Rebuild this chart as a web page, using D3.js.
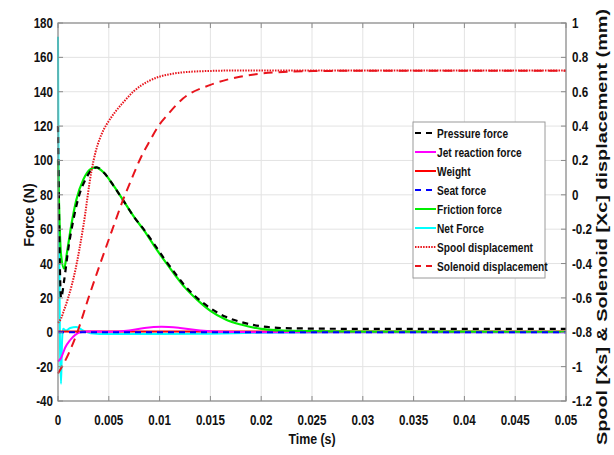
<!DOCTYPE html>
<html><head><meta charset="utf-8">
<script src="https://cdn.jsdelivr.net/npm/d3@7"></script>
<style>
html,body{margin:0;padding:0;background:#fff;}
text{font-family:"Liberation Sans",Arial,sans-serif;font-weight:bold;fill:#111;}
</style></head>
<body><svg id="c" width="614" height="455"></svg>
<script>
// ---- data ----
const xTicks = [0,0.005,0.01,0.015,0.02,0.025,0.03,0.035,0.04,0.045,0.05];
const xTickLabels = ["0","0.005","0.01","0.015","0.02","0.025","0.03","0.035","0.04","0.045","0.05"];
const yTicks = [-40,-20,0,20,40,60,80,100,120,140,160,180];
const y2Ticks = [-1.2,-1,-0.8,-0.6,-0.4,-0.2,0,0.2,0.4,0.6,0.8,1];
const y2TickLabels = ["-1.2","-1","-0.8","-0.6","-0.4","-0.2","0","0.2","0.4","0.6","0.8","1"];

const pressureT = [0,0.0001,0.0003,0.0006,0.001,0.0015,0.002,0.0028,0.0033,0.0038,0.0045,0.0055,0.0065,0.0075,0.0085,0.0095,0.0105,0.0115,0.0125,0.0135,0.015,0.0165,0.018,0.02,0.023,0.03,0.05];
const pressureF = [120,70,20,30,48,65,78,90,94.5,96,93,85,76,67,59.5,51,42.5,34.5,27,21,14,9,6,3.5,2.3,2,2];
const frictionT = [0,0.0001,0.0003,0.0006,0.0009,0.0013,0.0018,0.0025,0.0032,0.0037,0.0045,0.0055,0.0065,0.0075,0.0085,0.0095,0.0105,0.0115,0.0125,0.0135,0.015,0.0165,0.018,0.02,0.023,0.03,0.05];
const frictionF = [100,75,45,37,47,62,77,89,95,96,93,85,76,67,59,50,41.5,33.5,26,20,12.5,7.5,4.5,2,0.8,0.4,0.3];
const netT = [0,0.00005,0.0002,0.0003,0.0004,0.0005,0.0008,0.0012,0.0018,0.0025,0.0032,0.005,0.01,0.015,0.02,0.03,0.05];
const netF = [172,100,-10,-30,-5,2,1,2.5,3,1,-0.5,-1,-1,-0.8,-0.3,0,0];
const jetT = [0,0.0003,0.0007,0.0012,0.0017,0.0022,0.003,0.005,0.007,0.0085,0.0102,0.012,0.014,0.016,0.02,0.05];
const jetF = [-17,-15,-9,-4.5,-1.5,0,0.5,0.3,1,2.5,3.2,2.5,1,0.3,0,0];
const weightT = [0,0.05];
const weightF = [0.5,0.5];
const seatT = [0,0.05];
const seatF = [0,0];
const spoolT = [0,0.0003,0.0006,0.001,0.0017,0.0025,0.0033,0.0037,0.0041,0.0045,0.005,0.0058,0.0066,0.0074,0.0082,0.009,0.01,0.011,0.012,0.013,0.015,0.018,0.05];
const spoolX = [-0.745,-0.72,-0.67,-0.6,-0.44,-0.18,0.14,0.25,0.325,0.38,0.43,0.495,0.55,0.6,0.637,0.664,0.688,0.702,0.711,0.716,0.721,0.724,0.724];
const solenoidT = [0,0.001,0.0019,0.003,0.0041,0.0053,0.0064,0.0073,0.0081,0.009,0.01,0.0107,0.0123,0.015,0.0179,0.0212,0.025,0.03,0.05];
const solenoidX = [-1.04,-0.93,-0.8,-0.6,-0.41,-0.21,-0.03,0.1,0.21,0.31,0.41,0.46,0.56,0.64,0.687,0.712,0.72,0.722,0.722];

const legendLabels = ["Pressure force","Jet reaction force","Weight","Seat force","Friction force","Net Force","Spool displacement","Solenoid displacement"];

// ---- chart ----
const svg = d3.select("#c");
const L=58,R=566,T=23,B=401;
const x = d3.scaleLinear().domain([0,0.05]).range([L,R]);
const y = d3.scaleLinear().domain([-40,180]).range([B,T]);
const y2 = d3.scaleLinear().domain([-1.2,1]).range([B,T]);
const NARROW = 0.8;
function ntext(sel, px, py, str, size, anchor){
  return sel.append("text").attr("transform",`translate(${px},${py}) scale(${NARROW},1)`)
   .attr("text-anchor",anchor).attr("font-size",size).text(str);
}

// grid
const g = svg.append("g");
g.selectAll(".gx").data(xTicks).enter().append("line")
 .attr("x1",d=>x(d)).attr("x2",d=>x(d)).attr("y1",T).attr("y2",B)
 .attr("stroke","#e3e3e3").attr("stroke-width",1);
g.selectAll(".gy").data(yTicks).enter().append("line")
 .attr("x1",L).attr("x2",R).attr("y1",d=>y(d)).attr("y2",d=>y(d))
 .attr("stroke","#e3e3e3").attr("stroke-width",1);

// series
const series = [
 {t:netT,v:netF,sc:y,c:"#00ffff",dash:null,w:2},
 {t:weightT,v:weightF,sc:y,c:"#ff0000",dash:null,w:2},
 {t:jetT,v:jetF,sc:y,c:"#ff00ff",dash:null,w:2},
 {t:frictionT,v:frictionF,sc:y,c:"#00ee00",dash:null,w:2.2},
 {t:pressureT,v:pressureF,sc:y,c:"#000000",dash:"6,5",w:2.2},
 {t:seatT,v:seatF,sc:y,c:"#0000ff",dash:"6,5",w:2.2},
 {t:spoolT,v:spoolX,sc:y2,c:"#e8141c",dash:"1.5,1.2",w:2},
 {t:solenoidT,v:solenoidX,sc:y2,c:"#e8141c",dash:"9,6",w:2}
];
series.forEach(s=>{
 const line = d3.line().x((d,i)=>x(s.t[i])).y(d=>s.sc(d)).curve(d3.curveMonotoneX);
 svg.append("path").attr("d",line(s.v)).attr("fill","none").attr("stroke",s.c)
  .attr("stroke-width",s.w).attr("stroke-dasharray",s.dash);
});

// axes
const ax = svg.append("g");
ax.append("rect").attr("x",L).attr("y",T).attr("width",R-L).attr("height",B-T)
 .attr("fill","none").attr("stroke","#8a8a8a").attr("stroke-width",1.2);
const tk=5;
ax.selectAll(".tb").data(xTicks).enter().append("line")
 .attr("x1",d=>x(d)).attr("x2",d=>x(d)).attr("y1",B).attr("y2",B-tk).attr("stroke","#8a8a8a");
ax.selectAll(".tt").data(xTicks).enter().append("line")
 .attr("x1",d=>x(d)).attr("x2",d=>x(d)).attr("y1",T).attr("y2",T+tk).attr("stroke","#8a8a8a");
ax.selectAll(".tl").data(yTicks).enter().append("line")
 .attr("x1",L).attr("x2",L+tk).attr("y1",d=>y(d)).attr("y2",d=>y(d)).attr("stroke","#8a8a8a");
ax.selectAll(".tr").data(y2Ticks).enter().append("line")
 .attr("x1",R).attr("x2",R-tk).attr("y1",d=>y2(d)).attr("y2",d=>y2(d)).attr("stroke","#8a8a8a");

xTicks.forEach((d,i)=>ntext(ax, x(d), 425, xTickLabels[i], 14.5, "middle"));
yTicks.forEach(d=>ntext(ax, 53, y(d)+5, String(d), 14.5, "end"));
y2Ticks.forEach((d,i)=>ntext(ax, 572, y2(d)+5, y2TickLabels[i], 14.5, "start"));

ntext(svg, (L+R)/2, 444, "Time (s)", 15.5, "middle");
svg.append("text").attr("transform","translate(34,215) rotate(-90)")
 .attr("text-anchor","middle").attr("font-size",14.5).text("Force (N)");
svg.append("text").attr("transform","translate(607,227) rotate(-90)")
 .attr("text-anchor","middle").attr("font-size",15.5)
 .attr("textLength",436).attr("lengthAdjust","spacingAndGlyphs")
 .text("Spool [Xs] & Solenoid [Xc] displacement (mm)");

// legend
const lg = svg.append("g");
const lx=413, ly=122, lw=132, lh=156, step=19;
lg.append("rect").attr("x",lx).attr("y",ly).attr("width",lw).attr("height",lh)
 .attr("fill","#fff").attr("stroke","#9a9a9a").attr("stroke-width",1);
const legOrder=[4,2,1,5,3,0,6,7];
legOrder.forEach((si,i)=>{
 const s=series[si];
 const yy=ly+11+i*step;
 const d = s.dash==="6,5"?"6,5":(s.dash==="9,6"?"6,5":s.dash);
 lg.append("line").attr("x1",lx+2).attr("x2",lx+23).attr("y1",yy).attr("y2",yy)
  .attr("stroke",s.c).attr("stroke-width",2).attr("stroke-dasharray",d);
 ntext(lg, lx+24, yy+4.5, legendLabels[i], 12.7, "start");
});
</script></body></html>
